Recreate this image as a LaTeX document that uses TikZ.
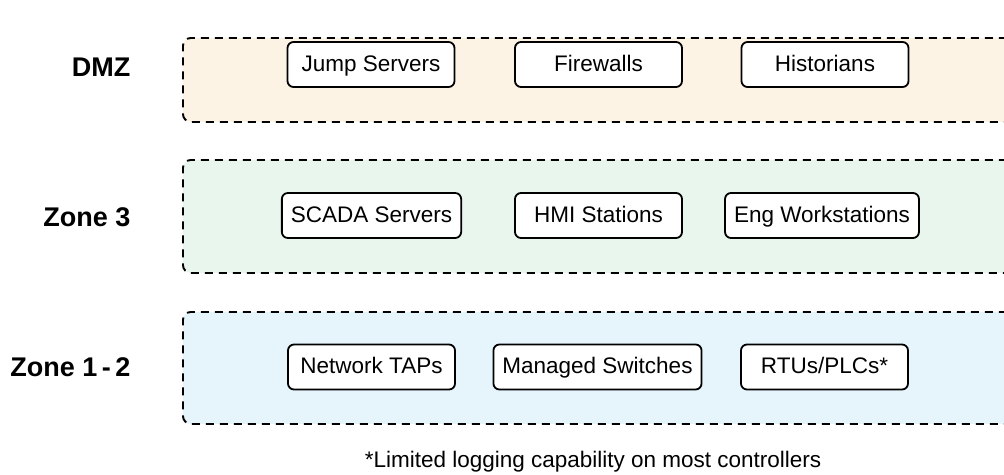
\documentclass[tikz,border=0pt]{standalone}
\usepackage{fontspec}
\setmainfont{Liberation Sans}
\definecolor{dmzfill}{HTML}{FDF3E4}
\definecolor{zthreefill}{HTML}{E9F6EE}
\definecolor{zonefill}{HTML}{E6F4FB}

\begin{document}
\begin{tikzpicture}[x=1pt,y=-1pt,
  zone/.style={draw, line width=1.9pt, dash pattern=on 8pt off 6pt, rounded corners=8pt, anchor=north west, inner sep=0pt},
  device/.style={draw, fill=white, line width=1.8pt, rounded corners=6pt, minimum height=45pt, minimum width=167pt, inner xsep=9pt, text height=16.5pt, text depth=3pt, font=\fontsize{22.5}{26}\selectfont},
  zonelabel/.style={anchor=east, font=\fontsize{27}{31}\selectfont\bfseries}]
\useasboundingbox (0,0) rectangle (1004,474);
% zones
\node[zone, fill=dmzfill, minimum width=860pt, minimum height=84pt] (dmz) at (182,37) {};
\node[zone, fill=zthreefill, minimum width=860pt, minimum height=113pt] (zthree) at (182,159) {};
\node[zone, fill=zonefill, minimum width=860pt, minimum height=112pt] (zone) at (182,311) {};
\node[zonelabel] (dmzlbl) at (134,67) {DMZ};
\node[zonelabel] (zthreelbl) at (134,217) {Zone 3};
\node[zonelabel] (zonelbl) at (134,367) {Zone 1\,-\,2};
% devices
\node[device] (jump) at (371,64.5) {Jump Servers};
\node[device] (fw) at (598.5,64.5) {Firewalls};
\node[device] (hist) at (825,64.5) {Historians};
\node[device] (scada) at (371.5,215.5) {SCADA Servers};
\node[device] (hmi) at (598.5,215.5) {HMI Stations};
\node[device] (eng) at (822,215.5) {Eng Workstations};
\node[device] (taps) at (371.5,367) {Network TAPs};
\node[device] (sw) at (597.5,367) {Managed Switches};
\node[device] (rtu) at (824.5,367) {RTUs/PLCs*};
\node[font=\fontsize{22.5}{26}\selectfont] (note) at (593,462) {*Limited logging capability on most controllers};
\end{tikzpicture}
\end{document}
